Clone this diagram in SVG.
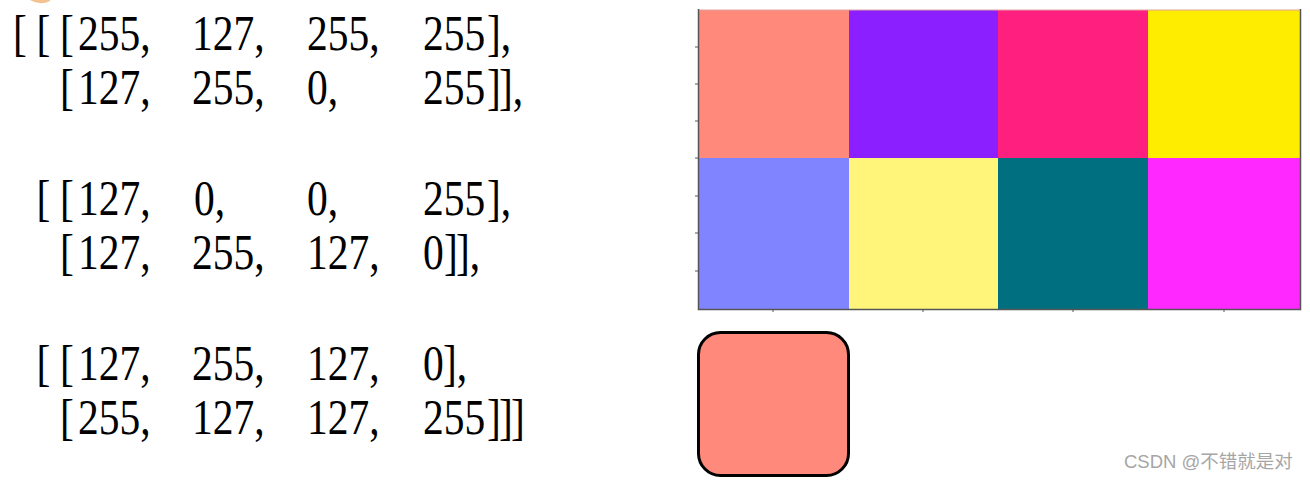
<svg xmlns="http://www.w3.org/2000/svg" width="1310" height="482" viewBox="0 0 1310 482">
<style>
.t{font-family:"Liberation Serif","DejaVu Serif",serif;font-size:41.5px;fill:#000}
.ax{stroke:#555;stroke-width:1.5;fill:none}
.tk{stroke:#555;stroke-width:1}
.wm{font-family:"Liberation Sans","Noto Sans CJK SC",sans-serif;font-size:18.5px;fill:#a6a6a6}
</style>
<rect width="1310" height="482" fill="#fff"/>
<path d="M30,0 Q40,6 50,1 L50,0 Z" fill="#f3c290"/>
<g id="array-text" transform="scale(1,1.2)">
<!-- line 1, baseline 50 -->
<text class="t" x="13" y="41.7">[</text>
<text class="t" x="36.5" y="41.7">[</text>
<text class="t" x="60" y="41.7">[</text>
<text class="t" x="78" y="41.7">255,</text>
<text class="t" x="192" y="41.7">127,</text>
<text class="t" x="307" y="41.7">255,</text>
<text class="t" x="423" y="41.7">255</text>
<text class="t" x="487" y="41.7">],</text>
<!-- line 2, baseline 104 -->
<text class="t" x="60" y="86.7">[</text>
<text class="t" x="78" y="86.7">127,</text>
<text class="t" x="192" y="86.7">255,</text>
<text class="t" x="307" y="86.7">0,</text>
<text class="t" x="423" y="86.7">255</text>
<text class="t" x="487" y="86.7">]</text>
<text class="t" x="499" y="86.7">],</text>
<!-- line 3, baseline 215 -->
<text class="t" x="36.5" y="179.2">[</text>
<text class="t" x="60" y="179.2">[</text>
<text class="t" x="78" y="179.2">127,</text>
<text class="t" x="194" y="179.2">0,</text>
<text class="t" x="307" y="179.2">0,</text>
<text class="t" x="423" y="179.2">255</text>
<text class="t" x="487" y="179.2">],</text>
<!-- line 4, baseline 269 -->
<text class="t" x="60" y="224.2">[</text>
<text class="t" x="78" y="224.2">127,</text>
<text class="t" x="192" y="224.2">255,</text>
<text class="t" x="307" y="224.2">127,</text>
<text class="t" x="423" y="224.2">0</text>
<text class="t" x="444" y="224.2">]</text>
<text class="t" x="456" y="224.2">],</text>
<!-- line 5, baseline 380 -->
<text class="t" x="36.5" y="316.7">[</text>
<text class="t" x="60" y="316.7">[</text>
<text class="t" x="78" y="316.7">127,</text>
<text class="t" x="192" y="316.7">255,</text>
<text class="t" x="307" y="316.7">127,</text>
<text class="t" x="423" y="316.7">0</text>
<text class="t" x="443" y="316.7">],</text>
<!-- line 6, baseline 434 -->
<text class="t" x="60" y="361.7">[</text>
<text class="t" x="78" y="361.7">255,</text>
<text class="t" x="192" y="361.7">127,</text>
<text class="t" x="307" y="361.7">127,</text>
<text class="t" x="423" y="361.7">255</text>
<text class="t" x="487" y="361.7">]</text>
<text class="t" x="499" y="361.7">]</text>
<text class="t" x="511" y="361.7">]</text>
</g>
<g id="grid">
<rect x="698" y="10" width="151" height="148" fill="#ff897b"/>
<rect x="849" y="10" width="149" height="148" fill="#8b1fff"/>
<rect x="998" y="10" width="150" height="148" fill="#ff1f7f"/>
<rect x="1148" y="10" width="152" height="148" fill="#ffed00"/>
<rect x="698" y="158" width="151" height="151" fill="#8084ff"/>
<rect x="849" y="158" width="149" height="151" fill="#fff57a"/>
<rect x="998" y="158" width="150" height="151" fill="#007080"/>
<rect x="1148" y="158" width="152" height="151" fill="#ff28ff"/>
<line x1="698" y1="10" x2="1300" y2="10" stroke="#e0a0a0" stroke-width="1"/>
<path class="ax" d="M698.5,9 V309.5 H1300.5 V9"/>
<g class="tk">
<line x1="695" y1="47" x2="698" y2="47"/>
<line x1="695" y1="84" x2="698" y2="84"/>
<line x1="695" y1="121" x2="698" y2="121"/>
<line x1="695" y1="158" x2="698" y2="158"/>
<line x1="695" y1="196" x2="698" y2="196"/>
<line x1="695" y1="233" x2="698" y2="233"/>
<line x1="695" y1="271" x2="698" y2="271"/>
<line x1="773" y1="309" x2="773" y2="312"/>
<line x1="923" y1="309" x2="923" y2="312"/>
<line x1="1073" y1="309" x2="1073" y2="312"/>
<line x1="1224" y1="309" x2="1224" y2="312"/>
</g>
</g>
<g id="swatch">
<rect x="698.5" y="332.5" width="150" height="143" rx="22" ry="22" fill="#ff897b" stroke="#000" stroke-width="3"/>
</g>
<g id="connectors"></g>
<text class="wm" x="1124" y="468">CSDN @不错就是对</text>
</svg>
